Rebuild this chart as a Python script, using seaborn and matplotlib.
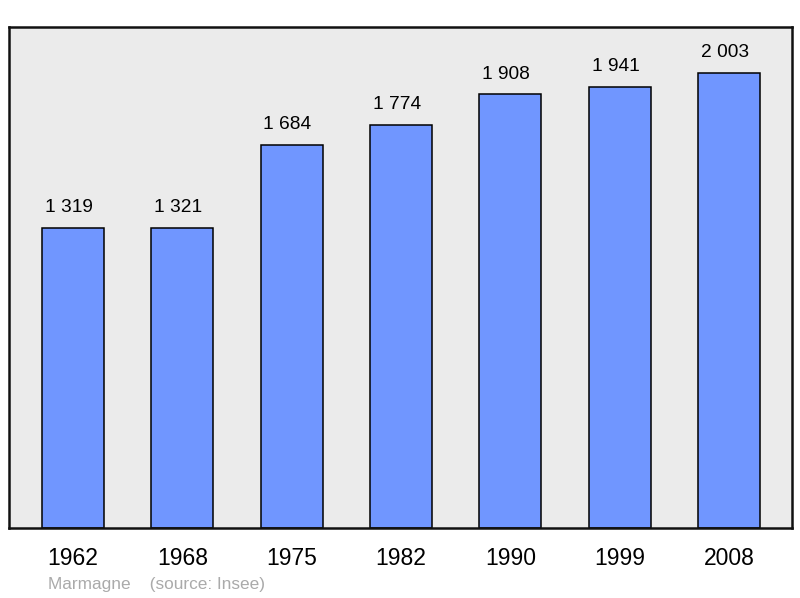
import matplotlib
matplotlib.use("Agg")
import matplotlib.pyplot as plt
import seaborn as sns
import pandas as pd

# Données de population
years = ["1962", "1968", "1975", "1982", "1990", "1999", "2008"]
population = [1319, 1321, 1684, 1774, 1908, 1941, 2003]
labels = ["1 319", "1 321", "1 684", "1 774", "1 908", "1 941", "2 003"]

df = pd.DataFrame({"year": years, "pop": population})

sns.set_style("white")
plt.rcParams["font.family"] = ["Liberation Sans", "DejaVu Sans"]

fig = plt.figure(figsize=(8, 5.98), dpi=100)
ax = fig.add_axes([9 / 800, 1 - 528 / 598, 783 / 800, 501 / 598])
ax.set_facecolor("#ebebeb")

sns.barplot(data=df, x="year", y="pop", color="#7096ff", width=0.567,
            edgecolor="black", linewidth=1.1, saturation=1, ax=ax)

# étiquettes légèrement décalées à gauche, comme l'original
for i, txt in enumerate(labels):
    ax.text(i - 0.04, population[i] + 90, txt, ha="center", va="center",
            fontsize=13.8, color="black")

ax.set_xlim(-0.585, 6.575)
ax.set_ylim(0, 2205)
ax.set_yticks([])
ax.set_xlabel("")
ax.set_ylabel("")
ax.tick_params(axis="x", length=0, labelsize=16.5, pad=14, labelcolor="black")
for s in ax.spines.values():
    s.set_linewidth(1.8)
    s.set_color("#111111")

fig.text(48 / 800, 1 - 585 / 598, "Marmagne    (source: Insee)", color="#aaaaaa",
         fontsize=12.4, va="center", ha="left")

fig.savefig("out.png", dpi=100, facecolor="white")
